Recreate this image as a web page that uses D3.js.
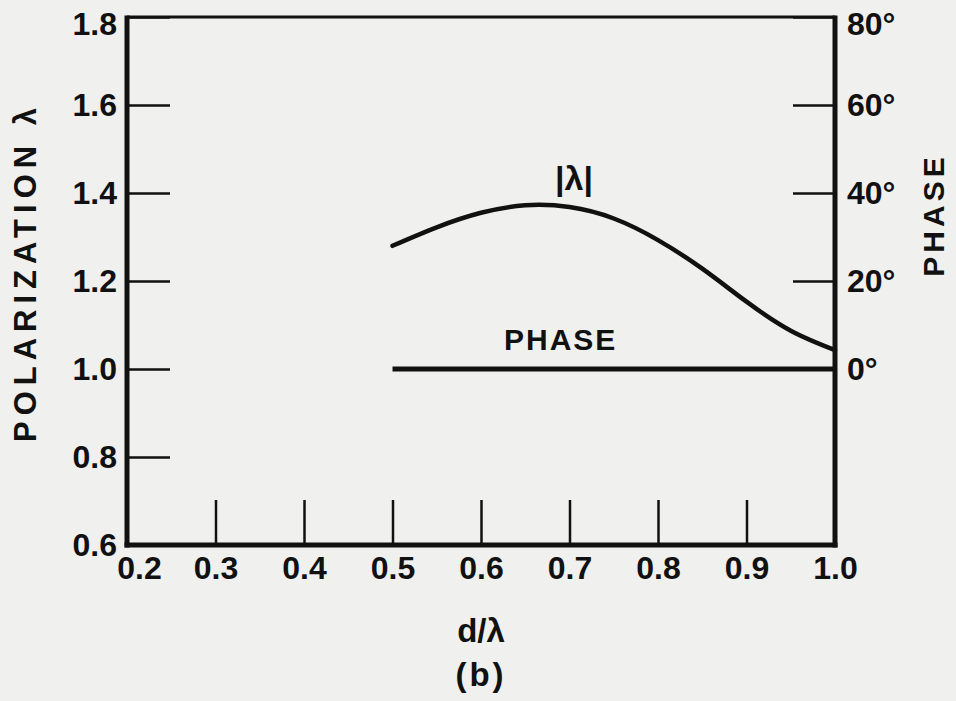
<!DOCTYPE html>
<html>
<head>
<meta charset="utf-8">
<script src="https://cdn.jsdelivr.net/npm/d3@7"></script>
<style>
  html, body { margin: 0; padding: 0; background: #f0f0ee; }
  svg { display: block; }
  text { font-family: "Liberation Sans", Arial, sans-serif; fill: #111; font-weight: bold; }
</style>
</head>
<body>
<script>
// valori
var dValues = [0.50, 0.55, 0.60, 0.65, 0.70, 0.75, 0.80, 0.85, 0.90, 0.95, 1.00];
var lambdaAbs = [1.28, 1.322, 1.355, 1.372, 1.368, 1.342, 1.293, 1.228, 1.153, 1.087, 1.043];
var phaseDeg = [0, 0, 0, 0, 0, 0, 0, 0, 0, 0, 0];
var xTicks = [0.2, 0.3, 0.4, 0.5, 0.6, 0.7, 0.8, 0.9, 1.0];
var yTicks = [0.6, 0.8, 1.0, 1.2, 1.4, 1.6, 1.8];
var phaseTicks = [0, 20, 40, 60, 80];

var width = 956, height = 701;
var margin = { left: 127, right: 121, top: 17, bottom: 156 };
var ink = "#111";

var svg = d3.select("body").append("svg")
    .attr("width", width)
    .attr("height", height);

var x = d3.scaleLinear().domain([0.2, 1.0]).range([margin.left, width - margin.right]);
var y = d3.scaleLinear().domain([0.6, 1.8]).range([height - margin.bottom, margin.top]);
// 0 gradi = 1.0, 80 gradi = 1.8
var yPhase = d3.scaleLinear().domain([-40, 80]).range([height - margin.bottom, margin.top]);

// assi
var gLeft = svg.append("g")
    .attr("transform", "translate(" + margin.left + ",0)")
    .call(d3.axisLeft(y).tickValues(yTicks).tickSize(-43).tickPadding(10)
        .tickFormat(d3.format(".1f")));

var gBottom = svg.append("g")
    .attr("transform", "translate(0," + (height - margin.bottom) + ")")
    .call(d3.axisBottom(x).tickValues(xTicks).tickSize(-45).tickPadding(10)
        .tickFormat(d3.format(".1f")));

var gRight = svg.append("g")
    .attr("transform", "translate(" + (width - margin.right) + ",0)")
    .call(d3.axisRight(yPhase).tickValues(phaseTicks).tickSize(-42).tickPadding(12)
        .tickFormat(function (d) { return d + "°"; }));

[gLeft, gBottom, gRight].forEach(function (g) {
    g.select(".domain").remove();
    g.selectAll(".tick line").attr("stroke", ink).attr("stroke-width", 2.5);
    g.selectAll(".tick text")
        .attr("font-size", 32)
        .attr("fill", ink);
});
// etichette in alto un po' più basse, come nell'originale
gLeft.selectAll(".tick text").filter(function (d) { return d === 1.8; }).attr("dy", "0.55em");
gRight.selectAll(".tick text").filter(function (d) { return d === 80; }).attr("dy", "0.55em");
gBottom.selectAll(".tick text").filter(function (d) { return d === 0.2; }).attr("dx", 12);
gBottom.selectAll(".tick text").attr("dy", "0.75em");

// cornice
var x0 = x(0.2), x1 = x(1.0), y0 = y(0.6), y1 = y(1.8);
svg.append("line").attr("x1", x0).attr("x2", x1).attr("y1", y1).attr("y2", y1)
    .attr("stroke", ink).attr("stroke-width", 3);
svg.append("line").attr("x1", x0).attr("x2", x0).attr("y1", y1 - 1.5).attr("y2", y0 + 2.5)
    .attr("stroke", ink).attr("stroke-width", 5);
svg.append("line").attr("x1", x0 - 2.5).attr("x2", x1 + 2.5).attr("y1", y0).attr("y2", y0)
    .attr("stroke", ink).attr("stroke-width", 5);
svg.append("line").attr("x1", x1).attr("x2", x1).attr("y1", y1 - 1.5).attr("y2", y0 + 2.5)
    .attr("stroke", ink).attr("stroke-width", 5);

// curve
var lineLambda = d3.line()
    .x(function (d, i) { return x(dValues[i]); })
    .y(function (d) { return y(d); })
    .curve(d3.curveNatural);

svg.append("path")
    .datum(lambdaAbs)
    .attr("d", lineLambda)
    .attr("fill", "none")
    .attr("stroke", ink)
    .attr("stroke-width", 4.5)
    .attr("stroke-linecap", "round");

var linePhase = d3.line()
    .x(function (d, i) { return x(dValues[i]); })
    .y(function (d) { return yPhase(d); });

svg.append("path")
    .datum(phaseDeg)
    .attr("d", linePhase)
    .attr("fill", "none")
    .attr("stroke", ink)
    .attr("stroke-width", 5);

// etichette curve
svg.append("text")
    .attr("x", x(0.705)).attr("y", 190)
    .attr("text-anchor", "middle")
    .attr("font-size", 34)
    .text("|λ|");

svg.append("text")
    .attr("x", x(0.69)).attr("y", 350)
    .attr("text-anchor", "middle")
    .attr("font-size", 30)
    .attr("letter-spacing", 2)
    .text("PHASE");

// titoli assi
svg.append("text")
    .attr("transform", "translate(36,272) rotate(-90)")
    .attr("text-anchor", "middle")
    .attr("font-size", 31)
    .attr("letter-spacing", 6)
    .text("POLARIZATION λ");

svg.append("text")
    .attr("transform", "translate(944,215) rotate(-90)")
    .attr("text-anchor", "middle")
    .attr("font-size", 30)
    .attr("letter-spacing", 4)
    .text("PHASE");

svg.append("text")
    .attr("x", x(0.6)).attr("y", 642)
    .attr("text-anchor", "middle")
    .attr("font-size", 33)
    .text("d/λ");

svg.append("text")
    .attr("x", x(0.6)).attr("y", 686)
    .attr("text-anchor", "middle")
    .attr("font-size", 33)
    .attr("letter-spacing", 3)
    .text("(b)");
</script>
</body>
</html>
